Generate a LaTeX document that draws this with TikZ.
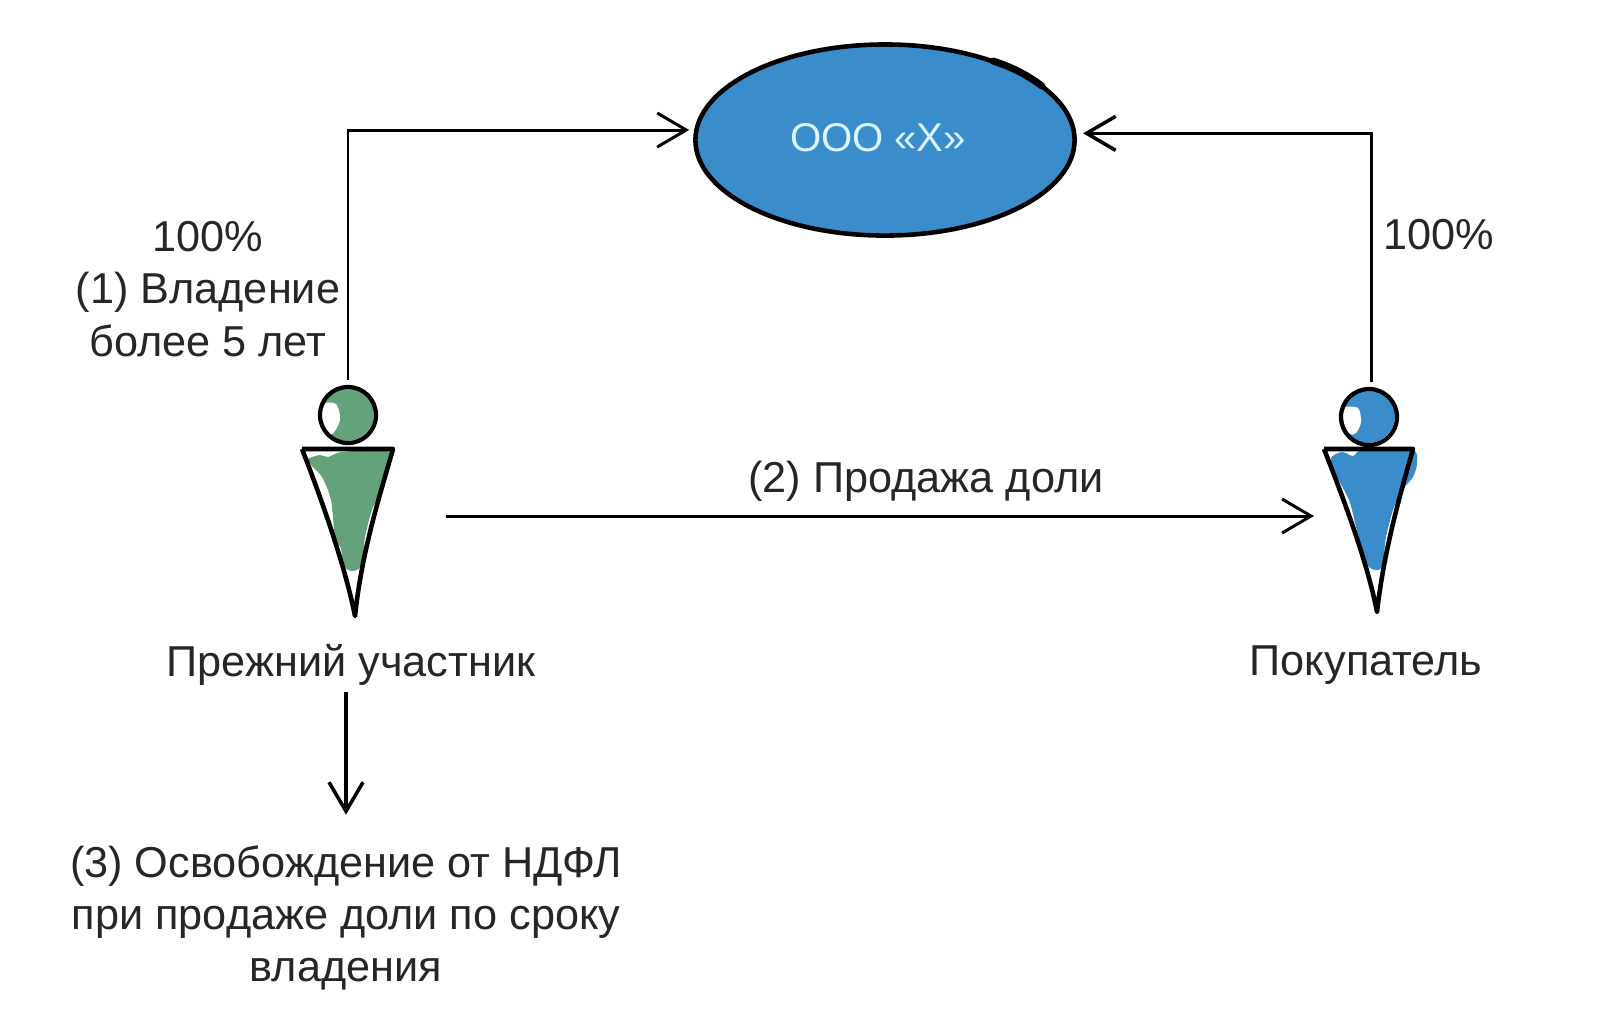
\documentclass[tikz,border=0pt]{standalone}
\usepackage{fontspec}
\setmainfont{Liberation Sans}
\usetikzlibrary{arrows.meta,shapes.geometric}
\definecolor{fillblue}{HTML}{3B8CCB}
\definecolor{fillgreen}{HTML}{63A27A}
\definecolor{paletext}{HTML}{D9F5FF}
\tikzset{
	>={Straight Barb[length=2.9mm,width=3.4mm]},
	link/.style={->, line width=0.85pt, black},
	figline/.style={line width=1.3pt, line join=round},
	headfig/.style={circle, draw, line width=1.2pt, minimum size=0.56cm, inner sep=0pt},
	lbl/.style={font=\fontsize{12.3}{14.9}\selectfont, align=center, inner sep=0pt, text=black!85}
}
\begin{document}
\begin{tikzpicture}[x=0.01cm,y=-0.01cm]
	\useasboundingbox (0,0) rectangle (1600,1035);
	\fill[white] (0,0) rectangle (1600,1035);
	%company
	\node[ellipse, draw, fill=fillblue, line width=1.3pt, minimum width=3.79cm, minimum height=1.91cm, inner sep=0pt] (company) at (885,140) {};
	\node[font=\fontsize{11.4}{14.9}\selectfont, text=paletext, inner sep=0pt] (companyname) at (878,138) {ООО «Х»};
	\draw[line width=2pt, line cap=round] (993,61) .. controls (1015,68) and (1030,77) .. (1042,86);
	%left figure
	\fill[fillgreen] (347,414) circle (0.27cm);
	\fill[white] plot[smooth cycle] coordinates {(321,405) (336,404) (340,420) (332,434) (322,428)};
	\fill[fillgreen] plot[smooth cycle] coordinates {(308,459) (320,455) (328,457) (342,452) (384,450) (390,457) (383,488) (373,507) (365,537) (362,565) (352,571) (343,565) (341,548) (335,537) (331,500) (322,477) (312,466)};
	\node[headfig] (sellerhead) at (348,415) {};
	\draw[figline] (302,449) -- (393,449) .. controls (380,495) and (362,550) .. (355,616) .. controls (345,565) and (320,495) .. (302,449);
	%right figure
	\fill[fillblue] (1368,416) circle (0.27cm);
	\fill[white] plot[smooth cycle] coordinates {(1344,408) (1358,408) (1361,422) (1356,433) (1350,434) (1344,424)};
	\fill[fillblue] plot[smooth cycle] coordinates {(1331,458) (1342,452) (1353,456) (1363,450) (1412,450) (1417,463) (1413,477) (1404,488) (1394,507) (1386,537) (1382,567) (1372,569) (1364,559) (1356,527) (1349,500) (1335,473)};
	\node[headfig] (buyerhead) at (1369,417) {};
	\draw[figline] (1324,449) -- (1413,449) .. controls (1400,495) and (1384,550) .. (1377,612) .. controls (1367,560) and (1342,495) .. (1324,449);
	%labels
	\node[lbl] (sellershare) at (208,289) {100\%\\(1) Владение\\более 5 лет};
	\node[lbl] (buyershare) at (1439,235) {100\%};
	\node[lbl] (sale) at (926,481) {(2) Продажа доли};
	\node[lbl] (seller) at (351,665) {Прежний участник};
	\node[lbl] (buyer) at (1366,665) {Покупатель};
	\node[lbl] (relief) at (346,918) {(3) Освобождение от НДФЛ\\при продаже доли по сроку\\владения};
	%links
	\coordinate (saleout) at (446,516);
	\coordinate (salein) at (1314,516);
	\draw[link, shorten <=1.5pt, shorten >=1.4pt] (sellerhead.north) |- (company.177.4);
	\draw[link, line width=1pt, shorten <=1.5pt, shorten >=1.9pt] ([xshift=0.025cm]buyerhead.north) |- (company.2.9);
	\draw[link] (saleout) -- (salein);
	\draw[link, line width=1pt] (relief.north |- seller.south) ++(0,6) -- ([yshift=0.3cm]relief.north);
\end{tikzpicture}
\end{document}
